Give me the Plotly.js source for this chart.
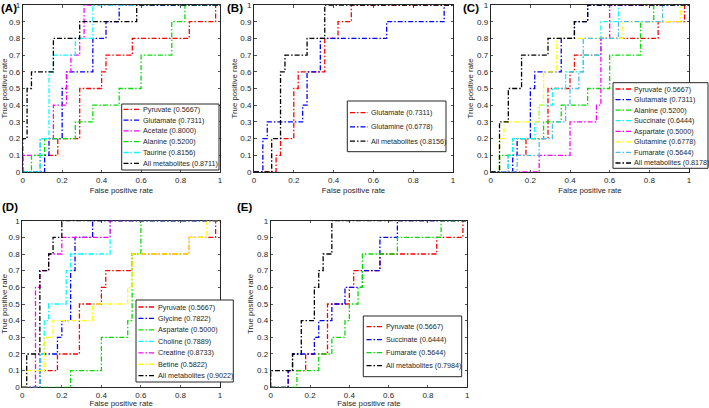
<!DOCTYPE html>
<html>
<head>
<meta charset="utf-8">
<script src="https://cdn.plot.ly/plotly-3.0.1.min.js"></script>
<style>html,body{margin:0;padding:0;background:#fff;}#chart{width:709px;height:408px;}</style>
</head>
<body>
<div id="chart"></div>
<script>
// ---------- DATA (ROC step points: FPR where TPR rises, TPR reached) ----------
const fprPyruvate  = [0.0889, 0.1778, 0.2889, 0.4000, 0.4222, 0.5556, 0.8444, 0.9778];
const tprPyruvate  = [0.1, 0.2, 0.5, 0.6, 0.7, 0.8, 0.9, 1.0];
const fprGlutamate = [0.1111, 0.1333, 0.2000, 0.2222, 0.3556, 0.4222, 0.4889];
const tprGlutamate = [0.1, 0.2, 0.5, 0.6, 0.8, 0.9, 1.0];
const fprAcetate   = [0.0000, 0.0889, 0.1556, 0.2222, 0.2444, 0.2889, 0.3111];
const tprAcetate   = [0.1, 0.2, 0.4, 0.6, 0.7, 0.8, 1.0];
const fprAlanine   = [0.0444, 0.1111, 0.2667, 0.3556, 0.4889, 0.6000, 0.7556, 0.8222];
const tprAlanine   = [0.1, 0.2, 0.3, 0.4, 0.5, 0.7, 0.9, 1.0];
const fprTaurine   = [0.0889, 0.1333, 0.1556, 0.2667, 0.3556];
const tprTaurine   = [0.2, 0.6, 0.7, 0.8, 1.0];
const fprAllA      = [0.0000, 0.0222, 0.0444, 0.1556, 0.2889, 0.5778];
const tprAllA      = [0.2, 0.5, 0.6, 0.8, 0.9, 1.0];

const fprGlutamine = [0.0444, 0.0667, 0.2444, 0.2667, 0.3333, 0.6667, 0.9556];
const tprGlutamine = [0.2, 0.3, 0.4, 0.6, 0.8, 0.9, 1.0];
const fprAllB      = [0.0889, 0.1333, 0.1556, 0.2667, 0.3556];
const tprAllB      = [0.2, 0.6, 0.7, 0.8, 1.0];

const fprSuccinate = [0.0889, 0.1111, 0.2222, 0.2444, 0.3111, 0.3778, 0.4667, 0.5556, 0.6444];
const tprSuccinate = [0.1, 0.2, 0.3, 0.4, 0.5, 0.6, 0.7, 0.9, 1.0];
const fprAspartate = [0.2444, 0.4000, 0.5333, 0.5556, 0.6000];
const tprAspartate = [0.1, 0.3, 0.4, 0.8, 1.0];
const fprFumarate  = [0.1333, 0.2444, 0.3111, 0.3778, 0.4000, 0.4444, 0.4667, 0.6444, 0.8667];
const tprFumarate  = [0.1, 0.2, 0.3, 0.4, 0.5, 0.6, 0.8, 0.9, 1.0];
const fprAllC      = [0.0444, 0.0889, 0.1556, 0.2889, 0.4222, 0.4889];
const tprAllC      = [0.3, 0.5, 0.7, 0.8, 0.9, 1.0];

const fprGlycine   = [0.0889, 0.1778, 0.2000, 0.2444, 0.2667, 0.3556];
const tprGlycine   = [0.2, 0.3, 0.4, 0.7, 0.9, 1.0];
const fprCholine   = [0.0889, 0.1111, 0.1333, 0.2222, 0.2444, 0.4444];
const tprCholine   = [0.2, 0.4, 0.5, 0.7, 0.8, 1.0];
const fprCreatine  = [0.0667, 0.0889, 0.1333, 0.2000, 0.4444];
const tprCreatine  = [0.6, 0.7, 0.8, 0.9, 1.0];
const fprBetine    = [0.0222, 0.1111, 0.1556, 0.3556, 0.5333, 0.5556, 0.8444, 0.9333];
const tprBetine    = [0.1, 0.3, 0.4, 0.5, 0.6, 0.8, 0.9, 1.0];
const fprAllD      = [0.0222, 0.0889, 0.1333, 0.1556, 0.2000];
const tprAllD      = [0.2, 0.7, 0.8, 0.9, 1.0];

const fprAllE      = [0.0000, 0.1111, 0.1556, 0.2222, 0.2444, 0.2667, 0.3111];
const tprAllE      = [0.1, 0.2, 0.4, 0.6, 0.7, 0.8, 1.0];

const namesA = ['Pyruvate', 'Glutamate', 'Acetate', 'Alanine', 'Taurine', 'All metabolites'];
const aucA   = ['0.5667', '0.7311', '0.8000', '0.5200', '0.8156', '0.8711'];
const namesB = ['Glutamate', 'Glutamine', 'All metabolites'];
const aucB   = ['0.7311', '0.6778', '0.8156'];
const namesC = ['Pyruvate', 'Glutamate', 'Alanine', 'Succinate', 'Aspartate', 'Glutamine', 'Fumarate', 'All metabolites'];
const aucC   = ['0.5667', '0.7311', '0.5200', '0.6444', '0.5000', '0.6778', '0.5644', '0.8178'];
const namesD = ['Pyruvate', 'Glycine', 'Aspartate', 'Choline', 'Creatine', 'Betine', 'All metabolites'];
const aucD   = ['0.5667', '0.7822', '0.5000', '0.7889', '0.8733', '0.5822', '0.9022'];
const namesE = ['Pyruvate', 'Succinate', 'Fumarate', 'All metabolites'];
const aucE   = ['0.5667', '0.6444', '0.5644', '0.7984'];

const xTicks = [0, 0.2, 0.4, 0.6, 0.8, 1];
const yTicks = [0, 0.1, 0.2, 0.3, 0.4, 0.5, 0.6, 0.7, 0.8, 0.9, 1];
const panelLabels = ['(A)', '(B)', '(C)', '(D)', '(E)'];

// ---------- STYLE / LAYOUT ----------
const W = 709, H = 408;
const FONT = 'Arial, "Liberation Sans", Helvetica, sans-serif';
const TXT = '#262626';
const DASH = '5px,2px,1.5px,2px';
const RED = '#FF0000', BLUE = '#0000FF', MAG = '#FF00FF', GRN = '#00E000', CYN = '#00FFFF', YEL = '#FFFF00', BLK = '#000000', LBLUE = '#4DBEEE';
const px = v => v / W;
const py = v => 1 - v / H;

const panels = [
  { suffix: '', names: namesA, auc: aucA,
    fpr: [fprPyruvate, fprGlutamate, fprAcetate, fprAlanine, fprTaurine, fprAllA],
    tpr: [tprPyruvate, tprGlutamate, tprAcetate, tprAlanine, tprTaurine, tprAllA],
    colors: [RED, BLUE, MAG, GRN, CYN, BLK],
    box: [22.7, 5, 220, 172], label: [0, 7.5],
    leg: { box: [121.7, 104, 219, 170], row0: 109.3, dy: 10.8, line: [123.5, 140.5], text: 142.3 } },
  { suffix: '2', names: namesB, auc: aucB,
    fpr: [fprGlutamate, fprGlutamine, fprAllB],
    tpr: [tprGlutamate, tprGlutamine, tprAllB],
    colors: [RED, BLUE, BLK],
    box: [254, 5, 453, 172], label: [226, 7.5],
    leg: { box: [347.3, 101, 446, 151.7], row0: 112.7, dy: 14.2, line: [350, 368], text: 370 } },
  { suffix: '3', names: namesC, auc: aucC,
    fpr: [fprPyruvate, fprGlutamate, fprAlanine, fprSuccinate, fprAspartate, fprGlutamine, fprFumarate, fprAllC],
    tpr: [tprPyruvate, tprGlutamate, tprAlanine, tprSuccinate, tprAspartate, tprGlutamine, tprFumarate, tprAllC],
    colors: [RED, BLUE, GRN, CYN, MAG, YEL, LBLUE, BLK],
    box: [490.7, 5, 689, 172], label: [462, 7.5],
    leg: { box: [613, 82.7, 708, 168.3], row0: 89, dy: 10.57, line: [615.5, 632], text: 633.3 } },
  { suffix: '4', names: namesD, auc: aucD,
    fpr: [fprPyruvate, fprGlycine, fprAspartate, fprCholine, fprCreatine, fprBetine, fprAllD],
    tpr: [tprPyruvate, tprGlycine, tprAspartate, tprCholine, tprCreatine, tprBetine, tprAllD],
    colors: [RED, BLUE, GRN, CYN, MAG, YEL, BLK],
    box: [22.3, 220.7, 220, 387.3], label: [1, 207],
    leg: { box: [136, 300, 233.3, 382], row0: 307, dy: 11.45, line: [138.5, 156], text: 157.3 } },
  { suffix: '5', names: namesE, auc: aucE,
    fpr: [fprPyruvate, fprSuccinate, fprFumarate, fprAllE],
    tpr: [tprPyruvate, tprSuccinate, tprFumarate, tprAllE],
    colors: [RED, BLUE, GRN, BLK],
    box: [270.7, 220.7, 467.3, 387.3], label: [236, 207],
    leg: { box: [363.3, 316, 461.7, 376.7], row0: 326.7, dy: 13, line: [366.5, 383.5], text: 385 } }
];

const traces = [];
const layout = {
  width: W, height: H,
  margin: { l: 0, r: 0, t: 0, b: 0 },
  paper_bgcolor: '#ffffff', plot_bgcolor: '#ffffff',
  showlegend: false,
  font: { family: FONT, size: 8, color: TXT },
  shapes: [], annotations: []
};

const axBase = {
  range: [0, 1], autorange: false, showgrid: false, zeroline: false,
  showline: true, linecolor: TXT, linewidth: 1, mirror: 'ticks',
  ticks: 'inside', ticklen: 2.5, tickwidth: 0.8, tickcolor: TXT,
  tickfont: { family: FONT, size: 8, color: TXT },
  fixedrange: true, layer: 'below traces', automargin: false
};

panels.forEach((p, pi) => {
  const xa = 'x' + p.suffix, ya = 'y' + p.suffix;
  p.fpr.forEach((f, i) => {
    const t = p.tpr[i];
    traces.push({
      type: 'scatter', mode: 'lines',
      x: [0].concat(f, [1]),
      y: [0].concat(t, [t[t.length - 1]]),
      xaxis: xa, yaxis: ya,
      name: p.names[i] + ' (' + p.auc[i] + ')',
      line: { color: p.colors[i], width: 1.3, dash: DASH, shape: 'hv' },
      hoverinfo: 'skip', showlegend: false
    });
  });
  const [bx0, by0, bx1, by1] = p.box;
  layout['xaxis' + p.suffix] = Object.assign({}, axBase, {
    domain: [px(bx0), px(bx1)], anchor: ya, tickvals: xTicks,
    title: { text: 'False positive rate', font: { family: FONT, size: 7.8, color: TXT }, standoff: 3 }
  });
  layout['yaxis' + p.suffix] = Object.assign({}, axBase, {
    domain: [py(by1), py(by0)], anchor: xa, tickvals: yTicks,
    title: { text: 'True positive rate', font: { family: FONT, size: 7.8, color: TXT }, standoff: 1.5 }
  });
  // panel label
  layout.annotations.push({
    xref: 'paper', yref: 'paper', x: px(p.label[0]), y: py(p.label[1]),
    xanchor: 'left', yanchor: 'middle', showarrow: false, borderpad: 0,
    text: panelLabels[pi], font: { family: FONT, size: 11.5, color: '#000', weight: 'bold' }
  });
  // manual legend
  const L = p.leg;
  layout.shapes.push({
    type: 'rect', xref: 'paper', yref: 'paper',
    x0: px(L.box[0]), x1: px(L.box[2]), y0: py(L.box[3]), y1: py(L.box[1]),
    line: { color: TXT, width: 1 }, fillcolor: '#ffffff', layer: 'above'
  });
  p.names.forEach((n, i) => {
    const yy = L.row0 + i * L.dy;
    layout.shapes.push({
      type: 'line', xref: 'paper', yref: 'paper',
      x0: px(L.line[0]), x1: px(L.line[1]), y0: py(yy), y1: py(yy),
      line: { color: p.colors[i], width: 1.3, dash: DASH }, layer: 'above'
    });
    layout.annotations.push({
      xref: 'paper', yref: 'paper', x: px(L.text), y: py(yy),
      xanchor: 'left', yanchor: 'middle', showarrow: false, borderpad: 0,
      text: n + ' (' + p.auc[i] + ')', font: { family: FONT, size: 7.2, color: TXT }
    });
  });
});

Plotly.newPlot('chart', traces, layout, { staticPlot: true, displayModeBar: false });
</script>
</body>
</html>
